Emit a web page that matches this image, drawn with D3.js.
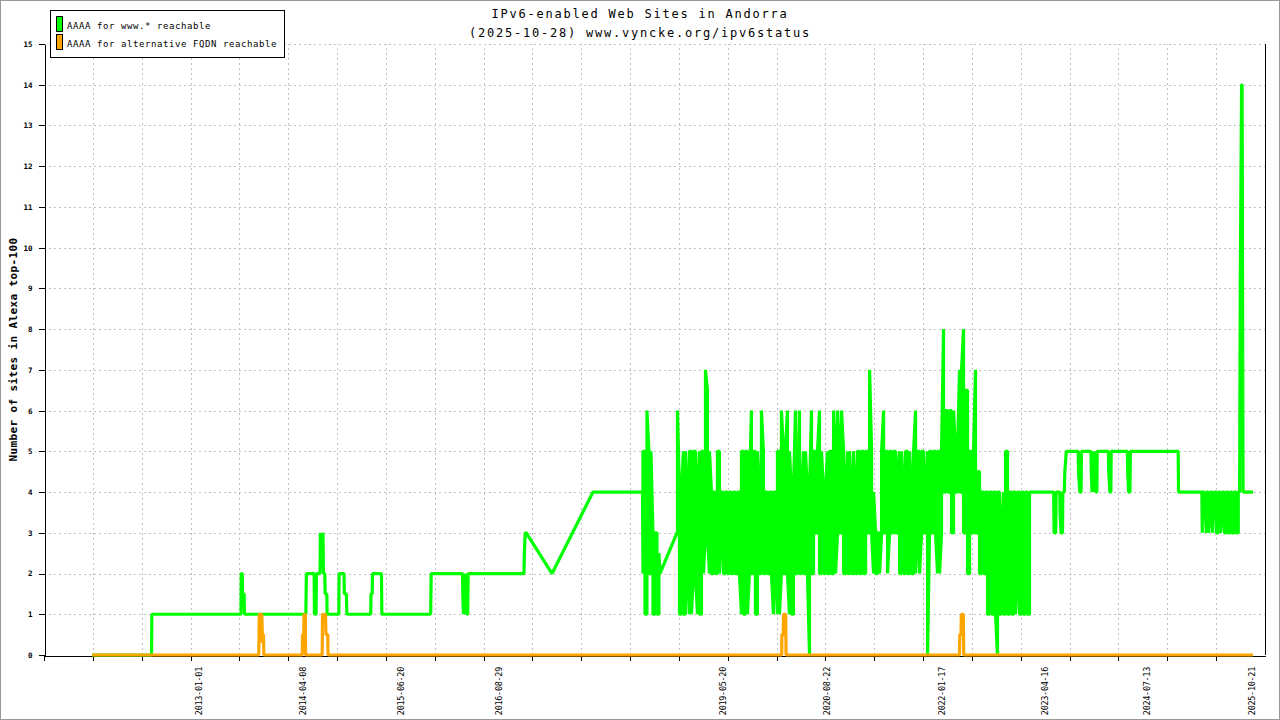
<!DOCTYPE html>
<html>
<head>
<meta charset="utf-8">
<script src="https://cdn.jsdelivr.net/npm/d3@7"></script>
<style>
    body { margin: 0; background: #ffffff; }
    svg { display: block; }
</style>
</head>
<body>
<div id="chart"></div>
<script>
let font = "DejaVu Sans Mono"

// texts
let titleLines = ["IPv6-enabled Web Sites in Andorra", "(2025-10-28) www.vyncke.org/ipv6status"];
let seriesNames = ["AAAA for www.* reachable", "AAAA for alternative FQDN reachable"];
let seriesColors = ["#00ff00", "#ffa500"];
let yTitle = "Number of sites in Alexa top-100";

// x axis: time span in decimal years, labelled dates
let xSpan = [2011.128, 2025.973];
let xLabels = ["2013-01-01", "2014-04-08", "2015-06-20", "2016-08-29", "2019-05-20",
    "2020-08-22", "2022-01-17", "2023-04-16", "2024-07-13", "2025-10-21"];
let yMax = 15;

// www.* reachable, single readings [year, sites]
let wwwEarly = [
    [2011.715, 0], [2012.435, 0], [2012.439, 1],
    [2013.522, 1], [2013.525, 2], [2013.537, 2], [2013.541, 1.5], [2013.560, 1.5], [2013.564, 1],
    [2014.311, 1], [2014.318, 2], [2014.412, 2], [2014.416, 1], [2014.436, 1], [2014.440, 2],
    [2014.484, 2], [2014.488, 3], [2014.494, 2.3], [2014.500, 3], [2014.508, 2.5], [2014.520, 3],
    [2014.525, 2], [2014.542, 2], [2014.546, 1.5], [2014.566, 1.5], [2014.570, 1],
    [2014.712, 1], [2014.716, 2], [2014.775, 2], [2014.780, 1.5], [2014.805, 1.5], [2014.810, 1],
    [2015.100, 1], [2015.104, 1.5], [2015.118, 1.5], [2015.122, 2], [2015.231, 2], [2015.236, 1],
    [2015.830, 1], [2015.836, 2],
    [2016.216, 2], [2016.220, 1.5], [2016.228, 1], [2016.236, 2], [2016.242, 1], [2016.250, 2],
    [2016.256, 1], [2016.264, 2], [2016.270, 1], [2016.280, 1], [2016.285, 2],
    [2016.963, 2], [2016.967, 2.5], [2016.977, 3], [2016.990, 3], [2017.304, 2], [2017.802, 4],
    [2018.405, 4]
];
let wwwGap2018 = [[2018.617, 2], [2018.824, 3]];
let wwwLate = [
    [2023.115, 4], [2023.405, 4], [2023.409, 3], [2023.430, 3], [2023.434, 4],
    [2023.478, 4], [2023.482, 3.5], [2023.494, 3], [2023.512, 3], [2023.516, 4],
    [2023.534, 4], [2023.540, 4.5], [2023.558, 5],
    [2023.703, 5], [2023.707, 4.5], [2023.722, 4], [2023.738, 4], [2023.742, 5],
    [2023.858, 5], [2023.862, 4.5], [2023.872, 4], [2023.884, 5], [2023.896, 4], [2023.908, 5],
    [2023.920, 4], [2023.930, 4], [2023.934, 5],
    [2024.070, 5], [2024.074, 4.5], [2024.088, 4], [2024.100, 4], [2024.104, 5],
    [2024.300, 5], [2024.304, 4.5], [2024.316, 4], [2024.332, 4], [2024.336, 5],
    [2024.917, 5], [2024.921, 4], [2025.205, 4]
];
let wwwEnd = [[2025.664, 4], [2025.672, 9], [2025.688, 14], [2025.694, 14], [2025.706, 4], [2025.827, 4]];

// www.* reachable, busy periods: [low, high] per reading interval
let binYears = 0.02432;
let burstAStart = 2018.410;
let burstA = [[2, 5], [1, 5], [1, 6], [2, 5], [2, 5], [1, 3], [1, 3], [1, 3], [1, 2.5]];
let burstBStart = 2018.830;
let burstB = [
    [3, 6], [1, 4], [1, 4], [1, 5], [1, 5], [2, 4], [1, 5], [1, 5], [2, 5], [2, 5],
    [1, 4], [1, 5], [1, 5], [2, 5], [3, 7], [3, 6.5], [2, 5], [2, 4], [2, 4], [2, 4],
    [2, 5], [2, 5], [3, 4], [2, 4], [2, 4], [2, 4], [2, 4], [2, 4], [2, 4], [2, 4],
    [2, 4], [2, 4], [1, 5], [1, 5], [1, 5], [1, 5], [2, 4], [2, 6], [2, 5], [1, 5],
    [1, 5], [2, 4], [2, 6], [2, 5], [2, 4], [2, 4], [2, 4], [2, 4], [1, 4], [2, 4],
    [1, 5], [1, 5], [2, 6], [2, 5], [2, 5], [2, 6], [1, 5], [1, 4], [1, 4], [2, 6],
    [2, 4], [2, 6], [2, 4], [2, 5], [2, 5], [2, 4], [0, 4], [2, 6], [2, 5], [3, 5],
    [3, 5], [2, 6], [2, 5], [2, 4], [2, 4], [2, 5], [2, 5], [2, 5], [2, 6], [2, 5],
    [3, 6], [3, 5],
    [3, 6], [2, 5], [2, 4], [2, 5], [2, 5], [2, 4], [2, 5], [2, 4], [2, 5], [2, 5],
    [2, 5], [2, 5], [2, 5], [3, 5], [3, 7], [3, 5], [2, 4], [2, 3], [2, 3], [2, 3],
    [3, 5], [3, 6], [3, 5], [2, 5], [3, 5], [3, 5], [3, 5], [3, 5], [3, 4.5], [2, 5],
    [2, 5], [2, 4], [2, 5], [2, 5], [2, 5], [2, 4], [2, 5], [2, 6], [3, 5], [2, 5],
    [3, 5], [3, 5], [3, 4], [0, 5], [3, 5], [3, 5], [3, 5], [3, 5], [2, 5], [2, 5],
    [3, 5], [4, 8], [4, 6], [4, 6], [4, 6], [3, 6], [3, 6], [4, 5], [4, 5], [4, 7],
    [4, 7], [3, 8], [3, 6.5], [2, 6.5], [2, 5], [3, 5], [3, 5], [3, 7], [3, 4.5], [2, 4.5],
    [2, 4], [2, 4], [2, 4], [1, 4], [1, 4], [1, 4], [1, 4], [1, 4], [0, 4], [1, 4],
    [1, 3], [1, 4], [1, 5], [1, 5], [1, 4], [1, 4], [1, 4], [1, 4], [2, 4], [1, 4],
    [1, 4], [1, 4], [1, 4], [1, 4], [1, 4]
];
let burstCStart = 2025.210;
let burstC = [
    [3, 4], [4, 4], [3, 4], [3, 4], [3.5, 4], [3, 4], [4, 4], [3, 4], [3, 4], [3, 4],
    [3.5, 4], [3, 4], [3, 4], [3, 4], [3, 4], [3, 4], [3, 4], [3, 4], [3, 4]
];

// alternative FQDN reachable [year, sites]
let fqdnSeries = [
    [2011.715, 0],
    [2013.738, 0], [2013.745, 1], [2013.752, 1], [2013.758, 0.3], [2013.764, 1], [2013.775, 1],
    [2013.782, 0.5], [2013.795, 0.5], [2013.800, 0],
    [2014.268, 0], [2014.271, 0.5], [2014.285, 0.5], [2014.289, 1], [2014.305, 1], [2014.308, 0],
    [2014.510, 0], [2014.514, 1], [2014.550, 1], [2014.556, 0.5], [2014.578, 0.5], [2014.581, 0],
    [2020.098, 0], [2020.100, 0.5], [2020.116, 0.5], [2020.120, 1], [2020.146, 1], [2020.151, 0],
    [2022.258, 0], [2022.262, 0.5], [2022.277, 0.5], [2022.281, 1], [2022.305, 1], [2022.310, 0],
    [2025.827, 0]
];

function yearToDate(y) {
    let yr = Math.floor(y);
    let a = Date.UTC(yr, 0, 1), b = Date.UTC(yr + 1, 0, 1);
    return new Date(a + (y - yr) * (b - a));
}

// a busy block becomes low/high readings, alternating so the line zigzags
function expandBurst(start, bins) {
    let pts = [];
    bins.forEach(function (b, i) {
        let t = start + i * binYears;
        if (i % 2 == 0) {
            pts.push([t, b[0]], [t, b[1]]);
        } else {
            pts.push([t, b[1]], [t, b[0]]);
        }
    });
    return pts;
}

function drawChart() {
    let width = 1280, height = 720;
    let margin = { top: 44, right: 15, bottom: 65, left: 44 };

    let wwwSeries = [].concat(wwwEarly, expandBurst(burstAStart, burstA), wwwGap2018,
        expandBurst(burstBStart, burstB), wwwLate, expandBurst(burstCStart, burstC), wwwEnd);

    let x = d3.scaleUtc()
        .domain(xSpan.map(yearToDate))
        .range([margin.left, width - margin.right]);
    let y = d3.scaleLinear()
        .domain([0, yMax])
        .range([height - margin.bottom, margin.top]);

    let svg = d3.select("#chart").append("svg")
        .attr("width", width)
        .attr("height", height);

    svg.append("rect")
        .attr("x", 0.5).attr("y", 0.5)
        .attr("width", width - 1).attr("height", height - 1)
        .attr("fill", "#ffffff").attr("stroke", "#999999");

    // 25 equal steps along the time axis
    let stepDates = d3.range(26).map(function (k) {
        return yearToDate(xSpan[0] + k * (xSpan[1] - xSpan[0]) / 25);
    });

    // grid
    let grid = svg.append("g")
        .attr("stroke", "#c0c0c0")
        .attr("stroke-dasharray", "2,3")
        .attr("shape-rendering", "crispEdges");
    grid.selectAll(".hgrid").data(d3.range(1, yMax + 1)).enter().append("line")
        .attr("x1", x.range()[0]).attr("x2", x.range()[1])
        .attr("y1", function (d) { return Math.round(y(d)) + 0.5; })
        .attr("y2", function (d) { return Math.round(y(d)) + 0.5; });
    grid.selectAll(".vgrid").data(stepDates.slice(1, 25)).enter().append("line")
        .attr("x1", function (d) { return Math.round(x(d)) + 0.5; })
        .attr("x2", function (d) { return Math.round(x(d)) + 0.5; })
        .attr("y1", y(0)).attr("y2", y(yMax));

    // y axis
    let yAxis = svg.append("g")
        .attr("transform", "translate(" + (margin.left + 0.5) + ",0)")
        .call(d3.axisLeft(y).ticks(yMax).tickSize(6).tickSizeOuter(0).tickPadding(6));
    yAxis.selectAll("text")
        .attr("font-family", font).attr("font-size", "7.5px").attr("font-weight", "bold")
        .attr("fill", "#000");

    // x axis, only ticks; labels rotated below
    svg.append("g")
        .attr("transform", "translate(0," + (y(0) + 0.5) + ")")
        .call(d3.axisBottom(x).tickValues(stepDates.slice(0, 25)).tickSize(5).tickSizeOuter(0).tickFormat(""));

    // right frame line
    svg.append("line")
        .attr("x1", x.range()[1] + 0.5).attr("x2", x.range()[1] + 0.5)
        .attr("y1", y(0)).attr("y2", y(yMax))
        .attr("stroke", "#000");

    svg.selectAll(".domain, .tick line").attr("stroke", "#000").attr("shape-rendering", "crispEdges");

    let parse = d3.utcParse("%Y-%m-%d");
    svg.selectAll(".xlabel").data(xLabels).enter().append("text")
        .attr("class", "xlabel")
        .attr("transform", function (d) { return "translate(" + (x(parse(d)) + 0.5) + ",667) rotate(-90)"; })
        .attr("text-anchor", "end")
        .attr("dominant-baseline", "central")
        .attr("font-family", font)
        .attr("font-size", "8.5px")
        .attr("letter-spacing", "-0.3px")
        .text(function (d) { return d; });

    // y axis title
    svg.append("text")
        .attr("transform", "translate(13," + ((y(0) + y(yMax)) / 2) + ") rotate(-90)")
        .attr("text-anchor", "middle")
        .attr("dominant-baseline", "central")
        .attr("font-family", font)
        .attr("font-size", "11px")
        .attr("font-weight", "bold")
        .attr("letter-spacing", "0.38px")
        .text(yTitle);

    // lines, www first, alternative FQDN on top
    let line = d3.line()
        .x(function (d) { return x(yearToDate(d[0])); })
        .y(function (d) { return y(d[1]); });

    [wwwSeries, fqdnSeries].forEach(function (serie, i) {
        svg.append("path")
            .datum(serie)
            .attr("d", line)
            .attr("fill", "none")
            .attr("stroke", seriesColors[i])
            .attr("stroke-width", 3.2)
            .attr("stroke-linejoin", "bevel");
    });

    // title
    svg.selectAll(".title").data(titleLines).enter().append("text")
        .attr("x", width / 2)
        .attr("y", function (d, i) { return 17.5 + i * 19; })
        .attr("text-anchor", "middle")
        .attr("font-family", font)
        .attr("font-size", "12px")
        .attr("letter-spacing", "1.78px")
        .text(function (d) { return d; });

    // legend
    let legend = svg.append("g");
    legend.append("rect")
        .attr("x", 50.5).attr("y", 10.5)
        .attr("width", 234).attr("height", 47)
        .attr("fill", "#ffffff").attr("stroke", "#000");
    let items = legend.selectAll(".item").data(seriesNames).enter().append("g")
        .attr("transform", function (d, i) { return "translate(0," + (i * 18) + ")"; });
    items.append("rect")
        .attr("x", 56.5).attr("y", 16.5)
        .attr("width", 6).attr("height", 15)
        .attr("fill", function (d, i) { return seriesColors[i]; })
        .attr("stroke", "#000");
    items.append("text")
        .attr("x", 67)
        .attr("y", 29)
        .attr("font-family", font)
        .attr("font-size", "9px")
        .attr("letter-spacing", "0.58px")
        .text(function (d) { return d; });
}

drawChart();
</script>
</body>
</html>
